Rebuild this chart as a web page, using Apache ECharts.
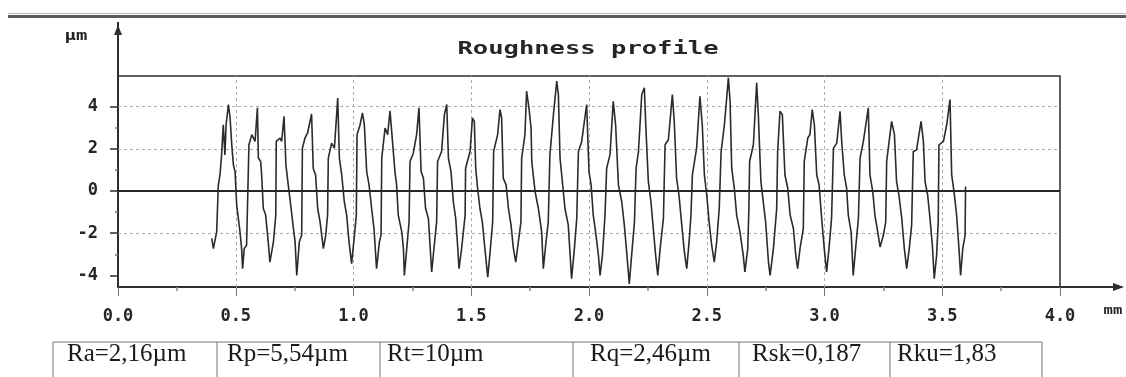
<!DOCTYPE html>
<html>
<head>
<meta charset="utf-8">
<script src="https://cdn.jsdelivr.net/npm/echarts@6/dist/echarts.min.js"></script>
<style>
  html, body { margin: 0; padding: 0; background: #ffffff; }
  #chart { width: 1126px; height: 377px; }
</style>
</head>
<body>
<div id="chart"></div>
<script>
// ---------------- data ----------------
const chartTitle = 'Roughness profile';
const yUnit = 'µm';
const xUnit = 'mm';
const xRange = [0, 4];
const xInterval = 0.5;
const yRange = [-4.55, 5.45];
const yTickValues = [-4, -2, 0, 2, 4];
const yMinorTickValues = [-3, -1, 1, 3];
const yGridValues = [-2, 2, 4];
const xGridValues = [0.5, 1.0, 1.5, 2.0, 2.5, 3.0, 3.5];
const tableCells = ['Ra=2,16µm', 'Rp=5,54µm', 'Rt=10µm', 'Rq=2,46µm', 'Rsk=0,187', 'Rku=1,83'];

// roughness profile [mm, µm]
const profile = [
[0.398,-2.25],[0.405,-2.73],[0.419,-1.94],[0.426,0.29],[0.433,0.76],[0.440,1.71],[0.447,3.14],[0.454,1.71],[0.459,3.14],[0.469,4.10],[0.476,3.46],[0.483,2.19],[0.490,1.24],[0.497,0.92],[0.504,-0.67],[0.511,-1.30],[0.518,-1.94],[0.525,-2.73],[0.529,-3.68],[0.536,-2.73],[0.546,-2.57],[0.553,-2.57],[0.556,2.19],[0.568,2.67],[0.582,2.35],[0.592,3.94],[0.596,1.56],[0.606,1.40],[0.610,0.76],[0.617,-0.83],[0.627,-1.14],[0.638,-2.41],[0.645,-3.37],[0.660,-2.41],[0.670,-1.14],[0.672,2.35],[0.688,2.51],[0.695,2.35],[0.705,3.54],[0.713,1.24],[0.723,0.29],[0.735,-0.83],[0.745,-1.78],[0.752,-2.41],[0.759,-4.00],[0.770,-2.41],[0.780,-2.10],[0.783,2.03],[0.794,2.51],[0.805,2.75],[0.822,3.65],[0.829,1.08],[0.839,0.76],[0.848,-0.83],[0.858,-1.46],[0.872,-2.73],[0.882,-2.10],[0.890,-1.14],[0.893,1.56],[0.907,2.27],[0.919,2.03],[0.933,4.41],[0.940,1.56],[0.950,0.76],[0.961,-0.51],[0.971,-1.14],[0.981,-2.41],[0.992,-3.44],[1.004,-2.10],[1.012,-1.14],[1.015,2.67],[1.028,3.14],[1.038,3.70],[1.046,3.14],[1.056,0.92],[1.066,0.29],[1.077,-0.83],[1.087,-1.78],[1.098,-3.68],[1.110,-2.41],[1.117,-2.10],[1.120,1.56],[1.134,2.98],[1.145,2.67],[1.155,3.80],
[1.176,0.92],[1.183,0.29],[1.190,-1.14],[1.205,-1.94],[1.212,-2.73],[1.216,-4.00],[1.226,-2.73],[1.236,-1.46],[1.240,1.40],[1.254,1.79],[1.268,2.67],[1.278,3.94],[1.287,0.92],[1.297,0.60],[1.306,-0.83],[1.318,-1.30],[1.325,-2.57],[1.332,-3.84],[1.343,-2.57],[1.353,-1.46],[1.357,1.40],[1.374,1.87],[1.386,3.62],[1.396,4.10],[1.403,1.56],[1.414,0.92],[1.424,-0.51],[1.434,-1.30],[1.442,-2.57],[1.448,-3.68],[1.459,-2.73],[1.474,-1.14],[1.476,1.08],[1.495,1.87],[1.505,3.46],[1.513,3.30],[1.519,1.08],[1.527,0.13],[1.537,-0.83],[1.547,-1.46],[1.558,-2.73],[1.570,-4.08],[1.580,-2.89],[1.591,-1.46],[1.595,1.87],[1.612,2.67],[1.622,3.86],[1.629,3.46],[1.636,0.60],[1.648,0.29],[1.658,-0.83],[1.669,-1.62],[1.679,-2.73],[1.689,-3.37],[1.700,-2.41],[1.711,-1.46],[1.714,1.56],[1.728,2.67],[1.735,4.73],[1.745,3.94],[1.754,2.98],[1.757,1.40],[1.771,-0.03],[1.785,-0.83],[1.799,-1.94],[1.806,-3.68],[1.816,-2.57],[1.827,-1.46],[1.834,1.71],[1.849,3.62],[1.863,5.21],[1.870,4.57],[1.877,1.56],[1.887,0.44],[1.898,-0.83],[1.912,-1.62],[1.926,-4.16],[1.938,-2.73],[1.948,-1.30],[1.955,1.87],[1.969,2.35],[1.990,4.10],
[2.000,0.92],[2.009,0.29],[2.018,-1.14],[2.028,-1.94],[2.040,-3.05],[2.047,-4.00],[2.057,-3.05],[2.068,-1.14],[2.075,1.08],[2.089,1.71],[2.103,4.25],[2.113,3.14],[2.125,0.29],[2.139,-0.51],[2.150,-1.62],[2.160,-2.89],[2.171,-4.40],[2.181,-3.05],[2.193,-1.46],[2.200,1.08],[2.210,1.87],[2.224,4.57],[2.235,4.89],[2.241,3.14],[2.252,0.44],[2.263,-0.51],[2.273,-1.78],[2.283,-3.05],[2.292,-4.00],[2.302,-2.73],[2.316,-1.30],[2.323,2.19],[2.337,2.43],[2.354,4.57],[2.362,3.30],[2.372,0.60],[2.382,-0.19],[2.394,-1.62],[2.405,-2.89],[2.415,-3.68],[2.425,-2.41],[2.433,-1.14],[2.439,0.76],[2.457,2.03],[2.471,4.49],[2.481,3.14],[2.490,0.76],[2.500,-0.19],[2.510,-1.46],[2.521,-2.57],[2.532,-3.37],[2.542,-2.41],[2.553,-0.83],[2.561,1.87],[2.575,3.14],[2.592,5.37],[2.599,4.25],[2.606,1.08],[2.617,0.13],[2.627,-1.14],[2.641,-1.94],[2.655,-3.05],[2.662,-3.84],[2.674,-2.73],[2.679,-0.83],[2.682,1.40],[2.698,2.19],[2.712,5.13],[2.719,3.62],[2.730,0.44],[2.740,-0.51],[2.750,-1.46],[2.762,-3.37],[2.769,-4.00],[2.783,-2.73],[2.797,-0.83],[2.801,1.87],
[2.811,3.78],[2.821,3.62],[2.832,0.76],[2.844,0.13],[2.854,-1.14],[2.868,-1.78],[2.878,-3.05],[2.886,-3.68],[2.896,-2.73],[2.910,-1.78],[2.914,1.40],[2.929,2.51],[2.938,2.67],[2.948,3.86],[2.957,3.14],[2.967,0.76],[2.977,0.29],[2.988,-1.30],[2.999,-2.73],[3.009,-3.84],[3.019,-2.73],[3.030,-1.30],[3.038,2.03],[3.052,2.27],[3.066,3.78],[3.073,2.35],[3.084,0.76],[3.094,0.13],[3.101,-1.14],[3.113,-1.94],[3.122,-4.00],[3.132,-2.73],[3.144,-1.30],[3.151,1.56],[3.165,2.35],[3.186,3.94],[3.193,0.76],[3.205,-0.03],[3.214,-1.14],[3.226,-1.94],[3.236,-2.65],[3.250,-2.10],[3.260,-1.46],[3.264,1.40],[3.278,2.67],[3.285,3.30],[3.297,2.67],[3.306,0.44],[3.316,-0.19],[3.328,-1.30],[3.339,-2.73],[3.349,-3.68],[3.360,-2.73],[3.370,-1.62],[3.377,1.87],[3.391,1.95],[3.410,3.30],[3.420,2.35],[3.427,0.44],[3.438,-0.19],[3.448,-1.30],[3.458,-2.57],[3.466,-4.16],[3.476,-3.05],[3.483,-1.46],[3.486,2.19],[3.505,2.35],[3.519,3.14],[3.533,4.33],[3.540,0.76],[3.550,-0.03],[3.561,-1.14],[3.571,-2.73],[3.578,-4.00],[3.587,-2.73],[3.597,-2.10],[3.599,0.21]
];

// ---------------- layout / style ----------------
const monoFont = 'DejaVu Sans Mono';
const ink = '#2e2e2e';
const gridGray = '#ababab';
const tableEdges = [53, 217, 380, 573, 739, 890, 1042];
const tableTextX = [67, 227, 387, 590, 752, 897];

const chart = echarts.init(document.getElementById('chart'), null, { renderer: 'canvas' });

const gridMarkLines = [];
yGridValues.forEach(v => gridMarkLines.push({ yAxis: v, lineStyle: { color: gridGray, width: 1, type: [3, 3] } }));
xGridValues.forEach(v => gridMarkLines.push({ xAxis: v, lineStyle: { color: gridGray, width: 1, type: [3, 3] } }));
gridMarkLines.push({ yAxis: 0, lineStyle: { color: '#262626', width: 2, type: 'solid' } });

const option = {
  animation: false,
  backgroundColor: '#ffffff',
  grid: {
    left: 118, right: 66, top: 76, bottom: 90,
    show: true, borderColor: ink, borderWidth: 1.5, backgroundColor: 'transparent'
  },
  xAxis: {
    type: 'value',
    min: xRange[0], max: xRange[1], interval: xInterval,
    axisLine: { show: true, onZero: false, lineStyle: { color: ink, width: 2 } },
    axisTick: { show: true, length: 9, lineStyle: { color: '#777', width: 1 } },
    minorTick: { show: true, splitNumber: 2, length: 4, lineStyle: { color: '#888', width: 1.5 } },
    axisLabel: {
      margin: 21, color: '#262626', fontFamily: monoFont, fontWeight: 'bold', fontSize: 17,
      formatter: v => v.toFixed(1)
    },
    splitLine: { show: false }
  },
  yAxis: [
    {
      type: 'value',
      min: yRange[0], max: yRange[1],
      axisLine: { show: true, onZero: false, lineStyle: { color: ink, width: 2 } },
      axisTick: { show: true, length: 8, customValues: yTickValues, lineStyle: { color: ink, width: 1.5 } },
      axisLabel: {
        customValues: yTickValues, margin: 20, color: '#262626',
        fontFamily: monoFont, fontWeight: 'bold', fontSize: 17
      },
      splitLine: { show: false }
    },
    {
      type: 'value',
      min: yRange[0], max: yRange[1],
      position: 'left',
      axisLine: { show: false },
      axisTick: { show: true, length: 3, customValues: yMinorTickValues, lineStyle: { color: '#777', width: 1.5 } },
      axisLabel: { show: false },
      splitLine: { show: false }
    }
  ],
  series: [{
    type: 'line',
    data: profile,
    xAxisIndex: 0, yAxisIndex: 0,
    symbol: 'none',
    lineStyle: { color: '#2b2b2b', width: 1.6 },
    z: 5,
    markLine: {
      silent: true, symbol: 'none', label: { show: false },
      data: gridMarkLines, z: 1
    }
  }]
};
chart.setOption(option);

// decorations positioned from the library's own scales
const px = (x, y) => chart.convertToPixel({ xAxisIndex: 0, yAxisIndex: 0 }, [x, y]);
const topLeft = px(xRange[0], yRange[1]);
const bottomRight = px(xRange[1], yRange[0]);
const yAxisX = topLeft[0];
const xAxisY = bottomRight[1];

const graphics = [
  // scan border line at the very top
  { type: 'rect', shape: { x: 8, y: 13, width: 1118, height: 1 }, style: { fill: '#b8b8b8' }, silent: true },
  { type: 'rect', shape: { x: 8, y: 15, width: 1118, height: 3 }, style: { fill: '#5a5a5a' }, silent: true },
  // y axis extension with arrow
  { type: 'line', shape: { x1: yAxisX, y1: topLeft[1], x2: yAxisX, y2: 22 }, style: { stroke: ink, lineWidth: 2 } },
  { type: 'polygon', shape: { points: [[yAxisX, 25], [yAxisX - 4, 35], [yAxisX + 4, 35]] }, style: { fill: ink } },
  // x axis extension with arrow
  { type: 'line', shape: { x1: bottomRight[0], y1: xAxisY, x2: 1122, y2: xAxisY }, style: { stroke: ink, lineWidth: 2 } },
  { type: 'polygon', shape: { points: [[1124, xAxisY], [1113, xAxisY - 4], [1113, xAxisY + 4]] }, style: { fill: ink } },
  // title
  {
    type: 'text', x: 588, y: 50, scaleX: 1.5,
    style: { text: chartTitle, fill: '#262626', font: 'bold 17px "DejaVu Sans Mono"', textAlign: 'center', textVerticalAlign: 'middle' }
  },
  // unit labels
  {
    type: 'text', x: 76, y: 36, scaleX: 1.35,
    style: { text: yUnit, fill: '#262626', font: 'bold 14px "DejaVu Sans Mono"', textAlign: 'center', textVerticalAlign: 'middle' }
  },
  {
    type: 'text', x: 1113, y: 311, scaleX: 1.3,
    style: { text: xUnit, fill: '#262626', font: 'bold 12px "DejaVu Sans Mono"', textAlign: 'center', textVerticalAlign: 'middle' }
  },
  // table top border
  { type: 'line', shape: { x1: tableEdges[0], y1: 342, x2: tableEdges[tableEdges.length - 1], y2: 342 }, style: { stroke: '#777', lineWidth: 1 } }
];
tableEdges.forEach(x => {
  graphics.push({ type: 'line', shape: { x1: x, y1: 342, x2: x, y2: 377 }, style: { stroke: '#777', lineWidth: 1 } });
});
tableCells.forEach((t, i) => {
  graphics.push({
    type: 'text', x: tableTextX[i], y: 354,
    style: { text: t, fill: '#1a1a1a', font: '25px "Liberation Serif"', textAlign: 'left', textVerticalAlign: 'middle' }
  });
});
chart.setOption({ graphic: graphics });
</script>
</body>
</html>
